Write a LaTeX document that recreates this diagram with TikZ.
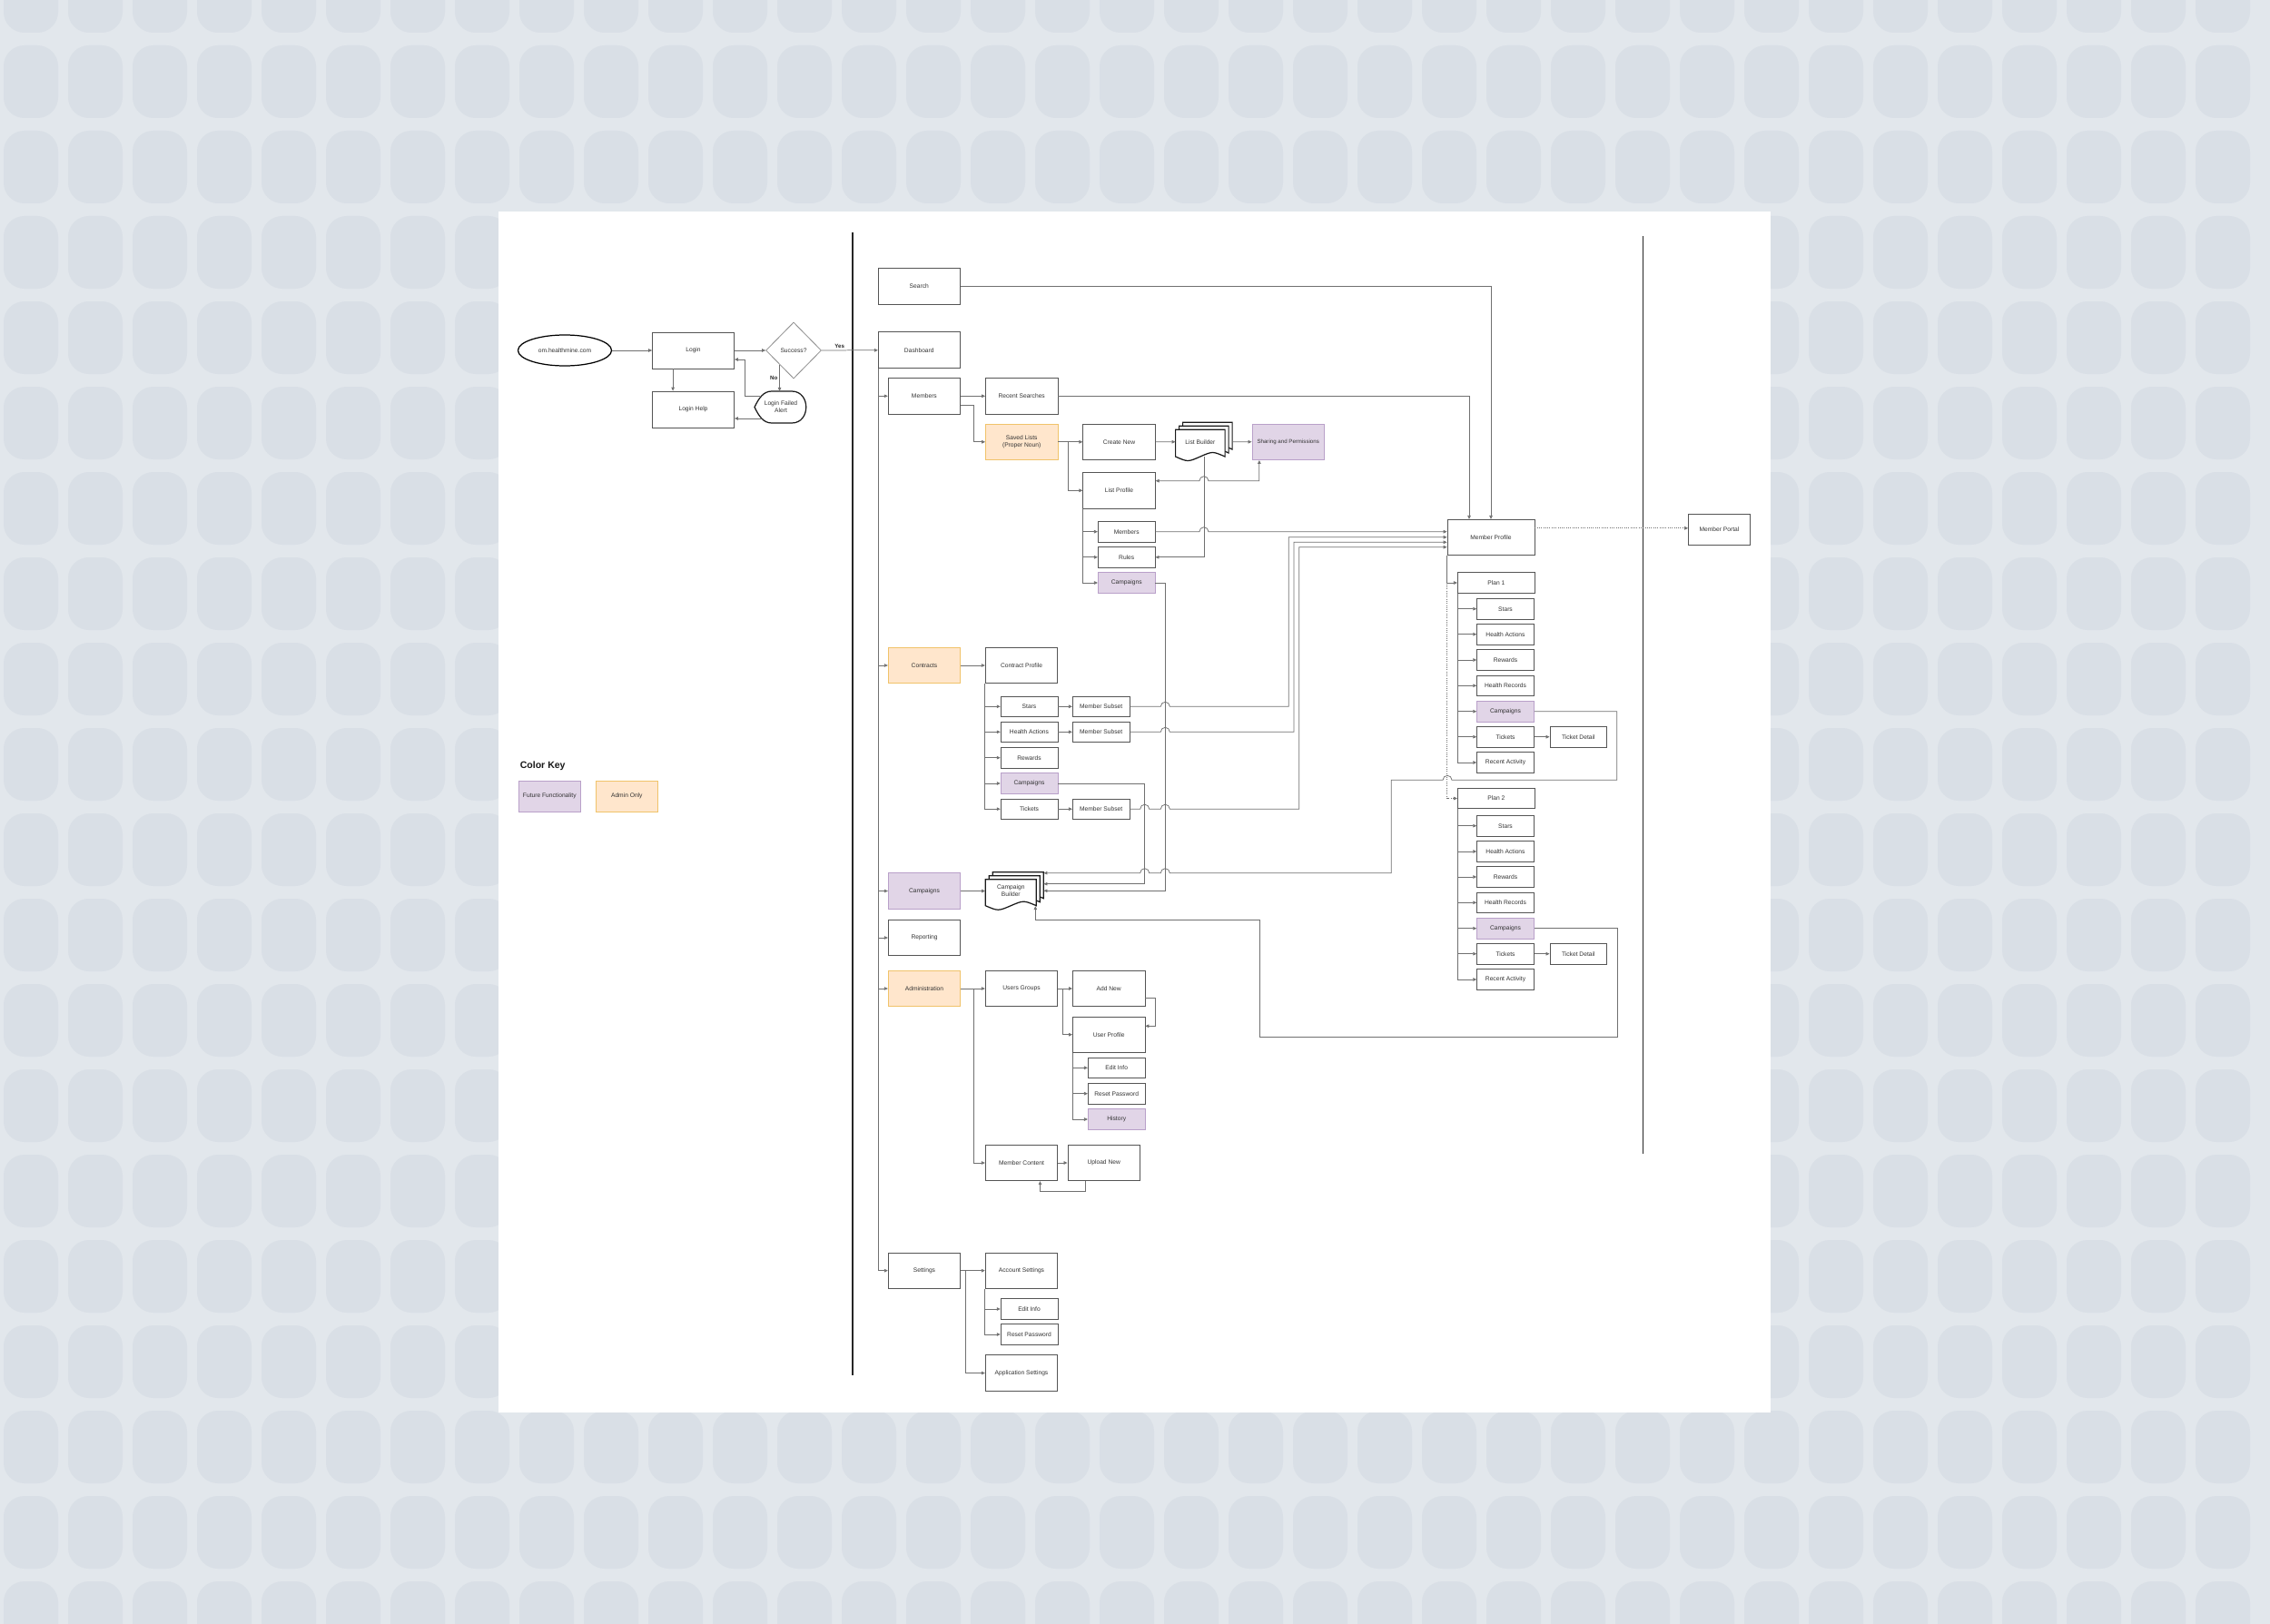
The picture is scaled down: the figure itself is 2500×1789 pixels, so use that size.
\documentclass[tikz,border=0pt]{standalone}
\usepackage{fontspec}
\setmainfont{Liberation Sans}
\usetikzlibrary{arrows.meta, positioning, shapes.geometric, calc}
\definecolor{bgpage}{HTML}{E2E7EC}
\definecolor{bgblob}{HTML}{D9DFE6}
\definecolor{futfill}{HTML}{E1D5E7}
\definecolor{futline}{HTML}{B9A0C9}
\definecolor{admfill}{HTML}{FFE6CC}
\definecolor{admline}{HTML}{F0C36A}
\definecolor{edge}{HTML}{707070}
\definecolor{boxline}{HTML}{555555}
\newcommand{\nodefont}{\fontsize{7.6}{9.1}\selectfont}
% line jumps: left-to-right and right-to-left
\newcommand{\jr}{arc[start angle=180,end angle=360,radius=5]}
\newcommand{\jl}{arc[start angle=0,end angle=-180,radius=5]}
% stacked document shape: x0, top, x1, bottom
\newcommand{\docshape}[4]{%
  \pgfmathsetmacro{\dxa}{#3-0.25*(#3-#1)}%
  \pgfmathsetmacro{\dxm}{0.5*(#1+#3)}%
  \pgfmathsetmacro{\dxb}{#1+0.25*(#3-#1)}%
  \filldraw[docline] (#1,#2) -- (#3,#2) -- (#3,#4-5) .. controls (\dxa,#4-11) .. (\dxm,#4-5) .. controls (\dxb,#4+1) .. (#1,#4-5) -- cycle;
}
\tikzset{
  box/.style={draw=boxline, fill=white, line width=0.9pt, text=black!80, font=\nodefont,
              align=center, inner sep=1pt},
  widebox/.style={box, minimum width=3.6cm, minimum height=1.6cm},
  mbox/.style={box, minimum width=3.18cm, minimum height=1.58cm},
  sbox/.style={box, minimum width=2.51cm, minimum height=0.9cm},
  planbox/.style={box, minimum width=3.4cm, minimum height=0.91cm},
  future/.style={fill=futfill, draw=futline},
  adminonly/.style={fill=admfill, draw=admline},
  arr/.style={-{Triangle[length=4.5pt,width=4pt]}, line width=0.85pt, draw=edge},
  barr/.style={{Triangle[length=4.5pt,width=4pt]}-{Triangle[length=4.5pt,width=4pt]}, line width=0.85pt, draw=edge},
  darr/.style={arr, dash pattern=on 1pt off 1.6pt},
  divider/.style={line width=1.8pt, draw=black!85},
  docline/.style={draw=black!90, fill=white, line width=1.4pt},
  lbl/.style={font=\bfseries\fontsize{7}{8}\selectfont, text=black!85, inner sep=1pt},
}

\begin{document}
\begin{tikzpicture}[x=0.04cm, y=-0.04cm]

  % Page
  \useasboundingbox (0,0) rectangle (2500,1789);
  \fill[bgpage] (0,0) rectangle (2500,1789);
  \foreach \i in {0,...,34}
    \foreach \j in {0,...,19}
      \fill[bgblob, rounded corners=26pt] (4+71*\i, -44+94*\j) rectangle ++(60,80);
  \fill[white] (549,233) rectangle (1950,1556);

  % Lanes
  \draw[divider] (939,256) -- (939,1515);
  \draw[divider] (1809.5,260) -- (1809.5,1271);

  % Login flow
  \node[ellipse, draw=black, line width=1.4pt, minimum width=4.12cm, minimum height=1.36cm,
        font=\nodefont, text=black!80, inner sep=0pt] (url) at (622,386) {om.healthmine.com};
  \node[widebox] (login) at (763.5,386) {Login};
  \node[widebox] (lhelp) at (763.5,451) {Login Help};
  \node[box, diamond, draw=black!45, minimum width=2.44cm, minimum height=2.48cm, inner sep=0pt] (succ) at (874,386) {Success?};
  \draw[docline] (831,448.5) .. controls (836,438) and (841,431) .. (850,431) -- (872,431)
    .. controls (893,431) and (893,466) .. (872,466) -- (850,466)
    .. controls (841,466) and (836,459) .. (831,448.5) -- cycle;
  \node[font=\nodefont, text=black!80, align=center, inner sep=1pt,
        minimum width=2.3cm, minimum height=1.4cm] (alert) at (860,448.5) {Login Failed\\Alert};

  \draw[arr] (url) -- (login);
  \draw[arr] (login) -- (succ);
  \draw[arr] ($(login.south west)+(23,0)$) -- ($(lhelp.north west)+(23,0)$);
  \draw[arr] (succ.south west) -- (succ.south west |- alert.north) node[lbl, pos=0.5, left=1pt] {No};
  \draw[arr] ($(alert.center)+(-23,-12.2)$) -- ++(-16.3,0) |- ($(login.east)+(0,10)$);
  \draw[arr] ($(alert.center)+(-21,12.5)$) -- ($(lhelp.east)+(0,10)$);

  % Dashboard column
  \node[widebox] (search) at (1012.3,315.2) {Search};
  \node[widebox] (dash) at (1012.3,385.7) {Dashboard};
  \draw[arr] (succ) -- (dash) node[lbl, pos=0.32, above=1pt] {Yes};

  \node[mbox] (mem) at (1017.9,436.3) {Members};
  \node[mbox] (recent) at (1125.2,436.3) {Recent Searches};
  \node[mbox, adminonly] (saved) at (1125.2,486.8) {Saved Lists\\(Proper Noun)};
  \node[mbox] (create) at (1232.5,486.8) {Create New};
  \docshape{1302.6}{465.3}{1357.1}{500}
  \docshape{1298.6}{469.3}{1353.1}{504}
  \docshape{1294.6}{473.3}{1349.1}{508}
  \node[font=\nodefont, text=black!80, minimum width=2.18cm, minimum height=1.08cm, inner sep=0pt] (listb) at (1321.9,486.7) {List Builder};
  \node[mbox, future, font=\fontsize{7}{8}\selectfont] (share) at (1418.7,486.8) {Sharing and Permissions};
  \node[mbox] (listp) at (1232.5,540.3) {List Profile};
  \node[sbox] (lmem) at (1240.7,585.7) {Members};
  \node[sbox] (lrules) at (1240.7,613.8) {Rules};
  \node[sbox, future] (lcamp) at (1240.7,642) {Campaigns};

  \node[mbox, adminonly] (contr) at (1018,733) {Contracts};
  \node[mbox] (cprof) at (1125,733) {Contract Profile};
  \node[sbox] (cstars) at (1133.5,778.3) {Stars};
  \node[sbox] (cha) at (1133.5,806.3) {Health Actions};
  \node[sbox] (crew) at (1133.5,834.7) {Rewards};
  \node[sbox, future] (ccamp) at (1133.5,863) {Campaigns};
  \node[sbox] (ctick) at (1133.5,891.2) {Tickets};
  \node[sbox] (csub1) at (1212.7,778.3) {Member Subset};
  \node[sbox] (csub2) at (1212.7,806.3) {Member Subset};
  \node[sbox] (csub3) at (1212.7,891.2) {Member Subset};

  \node[mbox, future] (camp) at (1018,981.5) {Campaigns};
  \docshape{1093.3}{960.7}{1149.3}{994.7}
  \docshape{1089.3}{964.7}{1145.3}{998.7}
  \docshape{1085.3}{968.7}{1141.3}{1002.7}
  \node[font=\nodefont, text=black!80, align=center, minimum width=2.24cm, minimum height=1.04cm, inner sep=0pt] (cb) at (1113.3,981.5) {Campaign\\Builder};
  \node[mbox] (report) at (1018,1033) {Reporting};

  \node[mbox, adminonly] (admin) at (1018,1089) {Administration};
  \node[mbox] (ug) at (1125,1089) {Users Groups};
  \node[mbox] (addnew) at (1221.2,1089) {Add New};
  \node[mbox] (uprof) at (1221.2,1139.7) {User Profile};
  \node[sbox] (uedit) at (1229.7,1176.3) {Edit Info};
  \node[sbox] (ureset) at (1229.7,1204.7) {Reset Password};
  \node[sbox, future] (uhist) at (1229.7,1233) {History};
  \node[mbox] (mc) at (1125,1281) {Member Content};
  \node[mbox] (upload) at (1215.7,1281) {Upload New};

  \node[mbox] (settings) at (1018,1399.7) {Settings};
  \node[mbox] (accs) at (1125,1399.7) {Account Settings};
  \node[sbox] (sedit) at (1133.5,1442) {Edit Info};
  \node[sbox] (sreset) at (1133.5,1470) {Reset Password};
  \node[mbox] (apps) at (1125,1512.5) {Application Settings};

  % Member profile column
  \node[box, minimum width=3.84cm, minimum height=1.56cm] (mprof) at (1642,591.8) {Member Profile};
  \node[box, minimum width=2.72cm, minimum height=1.36cm] (portal) at (1893.5,583.3) {Member Portal};
  \node[planbox] (p1) at (1647.8,642) {Plan 1};
  \node[sbox] (p1stars) at (1658,670.7) {Stars};
  \node[sbox] (p1ha) at (1658,698.7) {Health Actions};
  \node[sbox] (p1rew) at (1658,727) {Rewards};
  \node[sbox] (p1rec) at (1658,755.3) {Health Records};
  \node[sbox, future] (p1camp) at (1658,783.7) {Campaigns};
  \node[sbox] (p1tick) at (1658,811.7) {Tickets};
  \node[sbox] (p1act) at (1658,840) {Recent Activity};
  \node[sbox] (p1td) at (1738.3,811.7) {Ticket Detail};
  \node[planbox] (p2) at (1647.8,879.5) {Plan 2};
  \node[sbox] (p2stars) at (1658,909.7) {Stars};
  \node[sbox] (p2ha) at (1658,938) {Health Actions};
  \node[sbox] (p2rew) at (1658,966) {Rewards};
  \node[sbox] (p2rec) at (1658,994.3) {Health Records};
  \node[sbox, future] (p2camp) at (1658,1022.7) {Campaigns};
  \node[sbox] (p2tick) at (1658,1050.7) {Tickets};
  \node[sbox] (p2act) at (1658,1079) {Recent Activity};
  \node[sbox] (p2td) at (1738.3,1050.7) {Ticket Detail};

  % Color key
  \node[font=\bfseries\fontsize{12}{14}\selectfont, text=black!90] (keytitle) at (597.7,844) {Color Key};
  \node[box, future, minimum width=2.74cm, minimum height=1.37cm] (keyfut) at (605.3,877.2) {Future Functionality};
  \node[box, adminonly, minimum width=2.72cm, minimum height=1.37cm] (keyadm) at (690.3,877.2) {Admin Only};

  % Dashboard branches
  \draw[arr] (dash.south west) |- (mem.west);
  \draw[arr] (dash.south west) |- (contr.west);
  \draw[arr] (dash.south west) |- (camp.west);
  \draw[arr] (dash.south west) |- (report.west);
  \draw[arr] (dash.south west) |- (admin.west);
  \draw[arr] (dash.south west) |- (settings.west);

  % Members
  \draw[arr] (mem) -- (recent);
  \draw[arr] ($(mem.east)+(0,10)$) -- ++(14.3,0) |- (saved.west);
  \draw[arr] (search.east) -| (mprof.north);
  \draw[arr] (recent.east) -| ($(mprof.north)+(-24,0)$);
  \draw[arr] (saved) -- (create);
  \draw[arr] (saved.east) -- ++(11,0) |- (listp.west);
  \draw[arr] (create) -- (listb);
  \draw[arr] ($(listb.east)+(8,0)$) -- (share);
  \draw[arr] ($(listb.south)+(4,3)$) |- (lrules.east);
  \draw[barr] ($(listp.east)+(0,-10.6)$) -- (1320.9,529.7) \jr -| ($(share.south west)+(8.3,0)$);
  \draw[arr] (listp.south west) |- (lmem.west);
  \draw[arr] (listp.south west) |- (lrules.west);
  \draw[arr] (listp.south west) |- (lcamp.west);
  \draw[arr] (lmem.east) -- (1320.9,585.7) \jr -- (mprof.west |- lmem.east);
  \draw[arr] (lcamp.east) -- (1283.3,642) |- ($(cb.east)+(8,-0.2)$);

  % Contracts
  \draw[arr] (contr) -- (cprof);
  \draw[arr] (cprof.south west) |- (cstars.west);
  \draw[arr] (cprof.south west) |- (cha.west);
  \draw[arr] (cprof.south west) |- (crew.west);
  \draw[arr] (cprof.south west) |- (ccamp.west);
  \draw[arr] (cprof.south west) |- (ctick.west);
  \draw[arr] (cstars) -- (csub1);
  \draw[arr] (cha) -- (csub2);
  \draw[arr] (ctick) -- (csub3);
  \draw[arr] (csub1.east) -- (1278.3,778.3) \jr -- (1419.3,778.3) |- (mprof.west);
  \draw[arr] (csub2.east) -- (1278.3,806.3) \jr -- (1425,806.3) |- ($(mprof.west)+(0,5.5)$);
  \draw[arr] (csub3.east) -- (1255.7,891.2) \jr -- (1278.3,891.2) \jr -- (1430.7,891.2) |- ($(mprof.west)+(0,10.9)$);
  \draw[arr] (ccamp.east) -- (1260.7,863) |- ($(cb.east)+(8,-7.8)$);

  % Campaigns
  \draw[arr] (camp.east) -- (camp.east -| cb.west);

  % Administration
  \draw[arr] (admin) -- (ug);
  \draw[arr] (admin.east) -- ++(14,0) |- (mc.west);
  \draw[arr] (ug) -- (addnew);
  \draw[arr] (ug.east) -- ++(5.3,0) |- (uprof.west);
  \draw[arr] ($(addnew.east)+(0,10)$) -- ++(11.3,0) |- ($(uprof.east)+(0,-9.4)$);
  \draw[arr] (uprof.south west) |- (uedit.west);
  \draw[arr] (uprof.south west) |- (ureset.west);
  \draw[arr] (uprof.south west) |- (uhist.west);
  \draw[arr] (mc) -- (upload);
  \draw[arr] ($(upload.south west)+(20.3,0)$) -- ++(0,11.3) -| ($(mc.south east)+(-19.7,0)$);

  % Settings
  \draw[arr] (settings) -- (accs);
  \draw[arr] (settings.east) -- ++(5.6,0) |- (apps.west);
  \draw[arr] (accs.south west) |- (sedit.west);
  \draw[arr] (accs.south west) |- (sreset.west);

  % Member profile
  \draw[darr] ($(mprof.east)+(0,-10)$) -- ($(portal.west)+(0,-1.5)$);
  \draw[darr] (mprof.south west) |- (p2.west);
  \draw[arr] (mprof.south west) |- (p1.west);
  \draw[arr] (p1.south west) |- (p1stars.west);
  \draw[arr] (p1.south west) |- (p1ha.west);
  \draw[arr] (p1.south west) |- (p1rew.west);
  \draw[arr] (p1.south west) |- (p1rec.west);
  \draw[arr] (p1.south west) |- (p1camp.west);
  \draw[arr] (p1.south west) |- (p1tick.west);
  \draw[arr] (p1.south west) |- (p1act.west);
  \draw[arr] (p1tick) -- (p1td);
  \draw[arr] (p2.south west) |- (p2stars.west);
  \draw[arr] (p2.south west) |- (p2ha.west);
  \draw[arr] (p2.south west) |- (p2rew.west);
  \draw[arr] (p2.south west) |- (p2rec.west);
  \draw[arr] (p2.south west) |- (p2camp.west);
  \draw[arr] (p2.south west) |- (p2tick.west);
  \draw[arr] (p2.south west) |- (p2act.west);
  \draw[arr] (p2tick) -- (p2td);

  % Plan campaigns back to the builder
  \draw[arr] (p1camp.east) -- (1780.7,783.7) -- (1780.7,859.3) -- (1599,859.3) \jl -- (1532.3,859.3)
    -- (1532.3,961.7) -- (1288.3,961.7) \jl -- (1265.7,961.7) \jl -- ($(cb.east)+(8,-19.8)$);
  \draw[arr] (p2camp.east) -- (1781,1022.7) -- (1781,1142.3) -- (1387.1,1142.3) -- (1387.1,1013.3)
    -| ($(cb.south)+(27,3.5)$);

\end{tikzpicture}
\end{document}
